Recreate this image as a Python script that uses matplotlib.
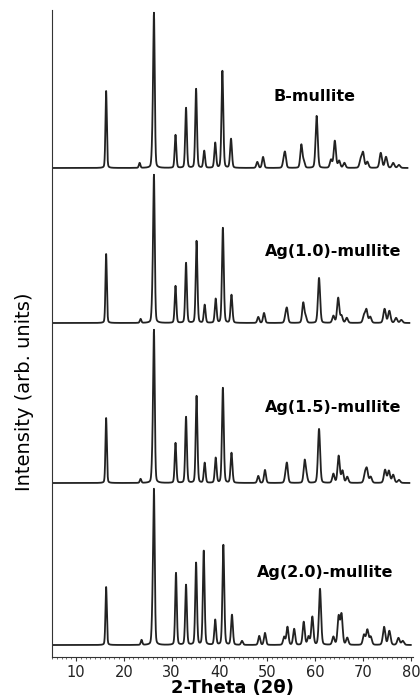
import numpy as np
import matplotlib.pyplot as plt

# peak positions (2theta) and heights, one list per sample
b_pos = [16.3, 23.3, 26.0, 26.3, 30.8, 33.0, 35.1, 36.8, 39.1, 40.6, 42.4, 47.9, 49.1,
         53.4, 53.7, 57.1, 57.6, 60.3, 63.3, 64.1, 65.0, 66.1, 69.5, 70.0, 70.9, 73.7,
         74.8, 76.3, 77.5]
b_hgt = [77, 5, 25, 150, 33, 60, 79, 17, 25, 97, 29, 6, 11,
         6, 14, 23, 6, 52, 8, 27, 7, 5, 8, 15, 6, 15,
         11, 5, 3]

ag10_pos = [16.3, 23.5, 26.0, 26.3, 30.8, 33.0, 35.2, 36.9, 39.2, 40.7, 42.5, 48.1, 49.3,
            53.8, 54.1, 57.5, 58.0, 60.8, 63.8, 64.8, 65.5, 66.6, 70.2, 70.7, 71.5, 74.5,
            75.5, 76.9, 78.0]
ag10_hgt = [69, 4, 25, 143, 37, 60, 82, 18, 24, 95, 28, 6, 10,
            6, 13, 20, 6, 45, 7, 25, 7, 5, 7, 13, 6, 14,
            12, 5, 3]

ag15_pos = [16.3, 23.5, 26.0, 26.3, 30.8, 33.0, 35.2, 36.9, 39.2, 40.7, 42.5, 48.1, 49.5,
            53.8, 54.1, 57.8, 58.2, 60.8, 63.8, 64.9, 65.7, 66.7, 70.4, 70.8, 71.6, 74.6,
            75.4, 76.3, 77.5]
ag15_hgt = [65, 4, 25, 148, 40, 66, 87, 20, 25, 95, 30, 7, 13,
            6, 18, 22, 6, 54, 9, 27, 12, 6, 8, 13, 6, 13,
            12, 8, 3]

ag20_pos = [16.3, 23.7, 26.0, 26.3, 30.9, 33.0, 35.1, 36.7, 39.1, 40.8, 42.6, 44.7, 48.3,
            49.5, 53.5, 54.2, 55.6, 57.6, 58.6, 59.4, 61.0, 63.8, 64.9, 65.5, 66.7, 70.2,
            70.9, 71.6, 74.4, 75.5, 77.4, 78.3]
ag20_hgt = [58, 5, 30, 150, 72, 60, 82, 94, 25, 100, 30, 4, 9,
            12, 8, 18, 16, 23, 8, 28, 56, 8, 28, 30, 7, 10,
            15, 8, 18, 14, 7, 4]

labels = ['B-mullite', 'Ag(1.0)-mullite', 'Ag(1.5)-mullite', 'Ag(2.0)-mullite']
offsets = [489, 334, 174, 12]
label_pos = [(59.8, 560), (63.8, 405), (63.8, 250), (62.1, 85)]

samples = [(b_pos, b_hgt, 79.3), (ag10_pos, ag10_hgt, 79.7),
           (ag15_pos, ag15_hgt, 79.7), (ag20_pos, ag20_hgt, 80.0)]


def pattern(x, pos, hgt):
    y = np.zeros_like(x)
    for p, h in zip(pos, hgt):
        w = 0.12 + 0.0018 * p
        g = np.exp(-0.5 * ((x - p) / w) ** 2)
        lz = 1.0 / (1.0 + ((x - p) / w) ** 2)
        y += h * (0.75 * g + 0.25 * lz)
    return y


fig = plt.figure(figsize=(4.2, 6.98), dpi=100)
ax = fig.add_axes([0.124, 0.0587, 0.86, 0.927])

for (pos, hgt, xend), off, lab, (lx, ly) in zip(samples, offsets, labels, label_pos):
    x = np.arange(5.0, xend, 0.02)
    ax.plot(x, pattern(x, pos, hgt) + off, color='#222222', lw=1.3)
    ax.text(lx, ly, lab, fontsize=11.5, fontweight='bold', ha='center', va='center',
            family='DejaVu Sans')

ax.set_xlim(5, 80.5)
ax.set_ylim(0, 647)
ax.set_xticks(range(10, 81, 10))
ax.set_xticks(range(5, 81, 1), minor=True)
ax.set_yticks([])
ax.spines['top'].set_visible(False)
ax.spines['right'].set_visible(False)
ax.spines['left'].set_color('#333333')
ax.spines['bottom'].set_color('#333333')
ax.tick_params(axis='x', which='major', length=3, labelsize=10.5, pad=3, colors='#333333')
ax.tick_params(axis='x', which='minor', length=1.5, colors='#555555')
ax.tick_params(axis='x', labelcolor='#222222')

ax.set_xlabel('2-Theta (2θ)', fontsize=13, fontweight='bold', va='center')
ax.xaxis.set_label_coords(0.5, -0.048)
ax.set_ylabel('Intensity (arb. units)', fontsize=14, va='center')
ax.yaxis.set_label_coords(-0.077, 0.41)

fig.savefig('out.png', dpi=100)
